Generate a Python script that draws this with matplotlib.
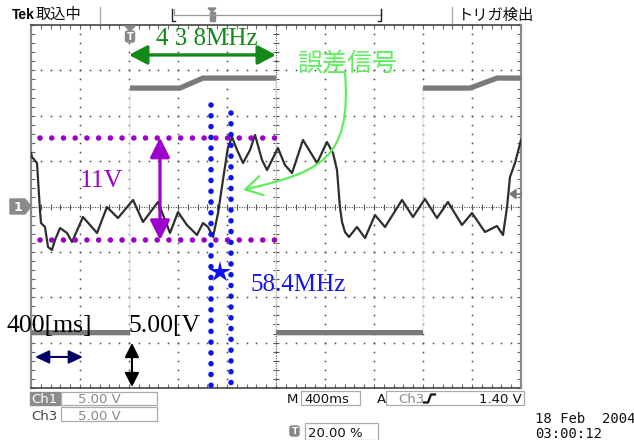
import numpy as np
import matplotlib
matplotlib.use("Agg")
import matplotlib.pyplot as plt
import matplotlib.transforms as mtransforms
from matplotlib.patches import FancyArrowPatch, Rectangle, Polygon, FancyBboxPatch
from matplotlib.path import Path

plt.rcParams['font.family'] = ['DejaVu Sans', 'Noto Sans CJK JP']

# ---------------- data ----------------
ms_per_div = 400
volts_per_div = 5

ch1_time_ms = [0, 8, 49, 73, 82, 114, 139, 171, 196, 237, 294, 335, 424, 482, 539, 620, 710,
               833, 914, 1037, 1078, 1135, 1200, 1273, 1355, 1404, 1445, 1486, 1527, 1567,
               1608, 1641, 1682, 1731, 1788, 1829, 1886, 1927, 2016, 2073, 2131, 2220, 2335,
               2416, 2465, 2498, 2522, 2539, 2563, 2596, 2661, 2727, 2808, 2890, 3029, 3118,
               3216, 3314, 3404, 3518, 3600, 3706, 3804, 3853, 3886, 3910, 3951, 4000]
ch1_volts = [5.90, 5.45, 4.79, -0.39, -1.82, -2.26, -4.46, -4.79, -3.69, -2.37, -2.92, -3.91,
             -1.16, -2.04, -2.92, -0.06, -1.27, 0.72, -1.71, 0.50, -0.94, -2.92, -0.61, -2.04,
             -3.14, -1.82, -2.26, -3.36, -0.72, 2.92, 6.55, 7.66, 6.23, 4.79, 6.23, 7.88, 5.12,
             4.02, 6.45, 4.57, 3.69, 7.33, 4.79, 7.11, 5.90, 4.02, -0.06, -1.71, -2.81, -3.36,
             -2.26, -3.47, -0.94, -2.26, 0.72, -1.16, 0.83, -1.27, 0.50, -2.04, -0.72, -2.81,
             -2.15, -3.14, -0.06, 3.25, 4.79, 7.33]

ch3_time_ms = [0, 808, 808, 1216, 1404, 2000, 2000, 3200, 3200, 3584, 3804, 4000]
ch3_volts = [-13.9, -13.9, 13.05, 13.05, 14.15, 14.15, -13.9, -13.9, 13.05, 13.05, 14.15, 14.15]

# measurement cursors / annotations (data units)
level_high_v, level_low_v = 7.6, -3.7
level_from_ms, level_to_ms = 73, 2030
cursor_a_ms, cursor_a_top_v = 1469, 11.2
cursor_b_ms, cursor_b_top_v = 1633, 10.3
period_from_ms, period_to_ms, period_v = 800, 2000, 16.7
amp_arrow_ms = 1053
star_ms, star_v = 1543, -7.22
scale_t_from_ms, scale_t_to_ms, scale_t_v = 33, 424, -16.58
scale_v_ms, scale_v_top, scale_v_bottom = 824, -15.04, -19.89

label_period = "4 3 8MHz"
label_error = "誤差信号"
label_amp = "11V"
label_freq = "58.4MHz"
label_time = "400[ms]"
label_volt = "5.00[V"

ch1_scale_label = "5.00 V"
ch3_scale_label = "5.00 V"
timebase_label = "400ms"
trigger_level_label = "1.40 V"
trigger_pos_label = "20.00 %"
date_label = "18 Feb  2004"
time_label = "03:00:12"

# ---------------- figure ----------------
W, H = 634, 440
fig = plt.figure(figsize=(W / 100, H / 100), dpi=100)
fig.patch.set_facecolor('white')
PX = mtransforms.Affine2D().scale(1 / W, -1 / H).translate(0, 1) + fig.transFigure

L, R, T, B = 31, 521, 25, 388
ax = fig.add_axes([L / W, (H - B) / H, (R - L) / W, (B - T) / H])
xmax = 10 * ms_per_div
ymax = 4 * volts_per_div
ax.set_xlim(0, xmax)
ax.set_ylim(-ymax, ymax)
ax.set_facecolor('white')

# graticule
minor_x = np.arange(0, xmax + 1, ms_per_div / 5)
minor_y = np.arange(-ymax, ymax + 0.01, volts_per_div / 5)
ax.set_xticks(minor_x)
ax.set_yticks(minor_y)
ax.tick_params(direction='in', length=3, width=0.8, colors='#666666',
               labelbottom=False, labelleft=False, top=True, right=True)
for k in range(1, 10):
    if k == 5:
        continue
    ax.plot(np.full_like(minor_y, k * ms_per_div), minor_y, ls='none', marker='s',
            ms=1.1, mew=0, color='#444444', zorder=1)
for k in range(-3, 4):
    if k == 0:
        continue
    ax.plot(minor_x, np.full_like(minor_x, k * volts_per_div), ls='none', marker='s',
            ms=1.1, mew=0, color='#444444', zorder=1)
ax.axhline(0, color='#555555', lw=0.8, ls=(0, (1, 1.2)), zorder=1)
ax.axvline(xmax / 2, color='#555555', lw=0.8, ls=(0, (1, 1.2)), zorder=1)
ax.plot(minor_x, np.zeros_like(minor_x), ls='none', marker='|', ms=5, mew=0.8,
        color='#555555', zorder=1)
ax.plot(np.full_like(minor_y, xmax / 2), minor_y, ls='none', marker='_', ms=5, mew=0.8,
        color='#555555', zorder=1)
for s in ('left', 'right'):
    ax.spines[s].set_color('#8a8a8a')
    ax.spines[s].set_linewidth(1.6)
for s in ('top', 'bottom'):
    ax.spines[s].set_color('#444444')
    ax.spines[s].set_linewidth(1.2)
    ax.spines[s].set_linestyle((0, (1, 1)))

# Ch3: faint edges + thick noisy band
ax.plot(ch3_time_ms, ch3_volts, color='#e2e2e2', lw=0.8, zorder=2)
t3 = np.array(ch3_time_ms, dtype=float)
v3 = np.array(ch3_volts, dtype=float)
tt, vv = [], []
for i in range(len(t3)):
    if i > 0 and t3[i] == t3[i - 1]:
        tt.append(np.nan); vv.append(np.nan)
    tt.append(t3[i]); vv.append(v3[i])
ax.plot(tt, vv, color='#7a7a7a', lw=3.8, solid_capstyle='butt', zorder=3)

# Ch1
ax.plot(ch1_time_ms, ch1_volts, color='#2e2e2e', lw=1.6, zorder=4)

# purple level cursors and 11V arrow
purple = '#9c00cc'
for lv in (level_high_v, level_low_v):
    ax.plot([level_from_ms, level_to_ms], [lv, lv], color=purple, lw=4.0,
            ls=(0, (0.01, 2.1)), dash_capstyle='round', zorder=6)
ax.add_patch(FancyArrowPatch((amp_arrow_ms, level_high_v), (amp_arrow_ms, level_low_v),
                             arrowstyle='<|-|>,head_length=12,head_width=6',
                             mutation_scale=1, lw=2.3, color=purple,
                             shrinkA=0, shrinkB=0, zorder=7))
ax.text(576, 2.15, label_amp, color=purple, fontsize=18.5, family='Liberation Serif',
        ha='center', va='baseline', zorder=8)

# blue time cursors
blue = '#1515ee'
for cm, top in ((cursor_a_ms, cursor_a_top_v), (cursor_b_ms, cursor_b_top_v)):
    ax.plot([cm, cm], [top, -ymax], color='#0a14f0', lw=4.0, ls=(0, (0.01, 1.93)),
            dash_capstyle='round', zorder=6, clip_on=False)
ax.plot([star_ms], [star_v], marker='*', ms=16, color='#0a14f0', mew=0, zorder=7)
ax.text(1788, -9.31, label_freq, color=blue, fontsize=18, family='Liberation Serif',
        ha='left', va='baseline', zorder=8)

# green period arrow
dgreen = '#13891a'
ax.add_patch(FancyArrowPatch((period_from_ms, period_v), (period_to_ms, period_v),
                             arrowstyle='<|-|>,head_length=11,head_width=5.8',
                             mutation_scale=1, lw=2.4, color=dgreen,
                             shrinkA=0, shrinkB=0, zorder=7))
ax.text(1433, 17.8, label_period, color=dgreen, fontsize=18, family='Liberation Serif',
        ha='center', va='baseline', zorder=8)

# light green error-signal label and curved arrow
lgreen = '#5eee5e'
ax.text(2171, 15.04, label_error, color=lgreen, fontsize=18, family='Noto Sans CJK JP',
        ha='left', va='baseline', zorder=8)
curve = Path([(2563, 14.82), (2620, 5.12), (2359, 3.80), (1731, 1.82)],
             [Path.MOVETO, Path.CURVE4, Path.CURVE4, Path.CURVE4])
ax.add_patch(FancyArrowPatch(path=curve, arrowstyle='->,head_length=12,head_width=7',
                             mutation_scale=1, lw=1.6, color=lgreen, zorder=8))

# scale annotations
ax.text(-196, -13.83, label_time, color='black', fontsize=18.5, family='Liberation Serif',
        ha='left', va='baseline', zorder=8, clip_on=False)
ax.text(792, -13.83, label_volt, color='black', fontsize=18.5, family='Liberation Serif',
        ha='left', va='baseline', zorder=8)
ax.add_patch(FancyArrowPatch((scale_t_from_ms, scale_t_v), (scale_t_to_ms, scale_t_v),
                             arrowstyle='<|-|>,head_length=8.5,head_width=4',
                             mutation_scale=1, lw=1.5, color='#000066',
                             shrinkA=0, shrinkB=0, zorder=7))
ax.add_patch(FancyArrowPatch((scale_v_ms, scale_v_top), (scale_v_ms, scale_v_bottom),
                             arrowstyle='<|-|>,head_length=8.5,head_width=4.3',
                             mutation_scale=1, lw=1.5, color='black',
                             shrinkA=0, shrinkB=0, zorder=7, clip_on=False))

# ---------------- screen decorations (pixel coordinates) ----------------
def ptext(x, y, s, **kw):
    kw.setdefault('va', 'baseline')
    fig.text(x, y, s, transform=PX, **kw)

def pline(xs, ys, **kw):
    fig.add_artist(plt.Line2D(xs, ys, transform=PX, **kw))

def prect(x, y, w, h, **kw):
    fig.add_artist(Rectangle((x, y), w, h, transform=PX, **kw))

def ppoly(pts, **kw):
    fig.add_artist(Polygon(pts, closed=True, transform=PX, **kw))

# header
ptext(12, 19, "Tek", fontsize=10, fontweight='bold', family='Liberation Sans')
ptext(36, 19, "取込中", fontsize=11, family='Noto Sans CJK JP', color='#111111')
pline([100, 100], [7, 23], color='#aaaaaa', lw=1)
pline([452, 452], [7, 23], color='#aaaaaa', lw=1)
ptext(458, 20, "トリガ検出", fontsize=11, family='Noto Sans CJK JP', color='#111111')
pline([174, 174, 381, 381], [9, 15, 15, 9], color='#999999', lw=0.9)
pline([172, 172, 175], [9, 21, 21], color='#222222', lw=1)
pline([381, 381, 378], [9, 21, 21], color='#222222', lw=1)
ppoly([(208, 8), (216, 8), (212, 12)], color='#888888')
prect(209.5, 12, 5, 9, color='#888888')

# trigger position marker on graticule
ppoly([(125, 26), (135, 26), (130, 31)], color='#888888', zorder=9)
fig.add_artist(FancyBboxPatch((125.5, 31), 9, 11, boxstyle='round,pad=0,rounding_size=2',
                              transform=PX, color='#888888', zorder=9))
ptext(130, 40.5, "T", fontsize=7, fontweight='bold', color='white', ha='center', zorder=10)

# channel 1 ground marker
ppoly([(10, 199), (25, 199), (31, 206.5), (25, 214), (10, 214)], color='#8a8a8a')
ptext(17.5, 211, "1", fontsize=9, fontweight='bold', color='white', ha='center')

# trigger level arrow on right
ppoly([(510, 194), (516, 189.5), (516, 198.5)], color='#777777', zorder=9)
pline([515, 521], [194, 194], color='#777777', lw=1.2, zorder=9)

# status bar
sfont = dict(fontsize=9.5, family='DejaVu Sans')
prect(30, 392, 30, 13, color='#8c8c8c')
ptext(31.5, 403, "Ch1", color='white', **sfont)
prect(61, 392, 96, 13, fill=False, ec='#aaaaaa', lw=0.9)
ptext(78, 403, ch1_scale_label, color='#8a8a8a', **sfont)
ptext(31.5, 419.5, "Ch3", color='#444444', **sfont)
prect(61, 407.5, 96, 13.5, fill=False, ec='#aaaaaa', lw=0.9)
ptext(78, 419.5, ch3_scale_label, color='#8a8a8a', **sfont)

ptext(287, 403, "M", color='#111111', **sfont)
prect(301, 391.5, 59, 13.5, fill=False, ec='#aaaaaa', lw=0.9)
ptext(304, 403, timebase_label, color='#111111', **sfont)
ptext(377, 403, "A", color='#111111', **sfont)
prect(386, 391.5, 138, 14, fill=False, ec='#aaaaaa', lw=0.9)
ptext(398, 403, "Ch3", color='#8a8a8a', **sfont)
pline([424, 428, 431, 435], [402.5, 402.5, 394.5, 394.5], color='#111111', lw=1.6)
ptext(522, 403, trigger_level_label, color='#111111', ha='right', **sfont)

fig.add_artist(FancyBboxPatch((290, 426), 9, 10, boxstyle='round,pad=0,rounding_size=2',
                              transform=PX, color='#888888'))
ptext(294.5, 434.5, "T", fontsize=6.5, fontweight='bold', color='white', ha='center')
prect(305, 423.5, 73, 17, fill=False, ec='#aaaaaa', lw=0.9)
ptext(308, 437, trigger_pos_label, color='#111111', **sfont)

ptext(535, 423, date_label, color='#111111', fontsize=10, family='DejaVu Sans Mono')
ptext(535, 438, time_label, color='#111111', fontsize=10, family='DejaVu Sans Mono')

fig.savefig("out.png", dpi=100, facecolor='white')
